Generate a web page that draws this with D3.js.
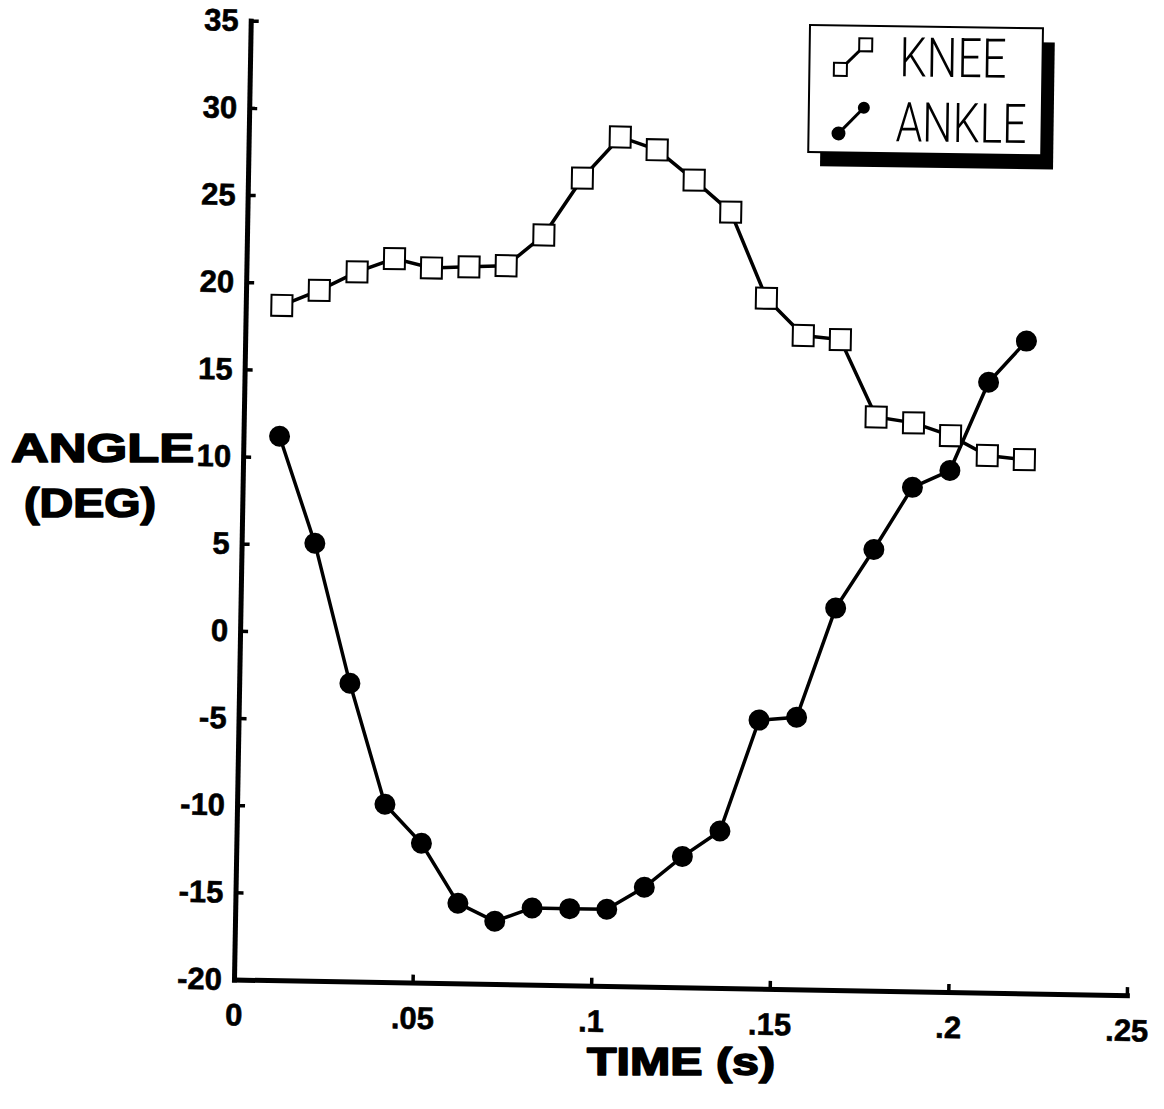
<!DOCTYPE html>
<html>
<head>
<meta charset="utf-8">
<script src="https://cdn.jsdelivr.net/npm/d3@7"></script>
<style>
  html, body { margin: 0; padding: 0; background: #fff; }
  svg { display: block; }
</style>
</head>
<body>
<svg id="chart" width="1164" height="1109"></svg>
<script>
// ---- data ----
const times = [0.0101, 0.0205, 0.0310, 0.0414, 0.0518, 0.0623, 0.0727, 0.0831, 0.0936, 0.1040,
               0.1144, 0.1249, 0.1353, 0.1457, 0.1562, 0.1666, 0.1770, 0.1875, 0.1979, 0.2083, 0.2187];
const kneeAngles = [18.7, 19.6, 20.7, 21.5, 21.0, 21.1, 21.2, 23.0, 26.3, 28.7,
                    28.0, 26.3, 24.5, 19.6, 17.5, 17.3, 12.9, 12.6, 11.9, 10.8, 10.6];
const ankleAngles = [11.2, 5.1, -2.9, -9.8, -12.0, -15.4, -16.4, -15.6, -15.6, -15.6,
                     -14.3, -12.5, -11.0, -4.6, -4.4, 1.9, 5.3, 8.9, 9.9, 15.0, 17.4];
const xTicks = [0, 0.05, 0.1, 0.15, 0.2, 0.25];
const xTickLabels = ["0", ".05", ".1", ".15", ".2", ".25"];
const yTicks = [-20, -15, -10, -5, 0, 5, 10, 15, 20, 25, 30, 35];
const yTickLabels = ["-20", "-15", "-10", "-5", "0", "5", "10", "15", "20", "25", "30", "35"];
const seriesNames = ["KNEE", "ANKLE"];
const xTitle = "TIME (s)";
const yTitleLines = ["ANGLE", "(DEG)"];

// ---- layout ----
const svg = d3.select("#chart");
svg.append("rect").attr("width", 1164).attr("height", 1109).attr("fill", "#fff");

const originX = 234, originY = 979.5, tilt = 1;
const plotW = 893, plotH = 959;

const x = d3.scaleLinear().domain([0, 0.25]).range([0, plotW]);
const y = d3.scaleLinear().domain([-20, 35]).range([0, -plotH]);

const g = svg.append("g")
  .attr("transform", `translate(${originX},${originY}) rotate(${tilt})`);

const tickFont = "'Liberation Sans', Arial, Helvetica, sans-serif";

// x axis
const gx = g.append("g")
  .call(d3.axisBottom(x).tickValues(xTicks)
    .tickFormat((d, i) => xTickLabels[i])
    .tickSizeInner(-8).tickSizeOuter(0).tickPadding(24));
// y axis
const gy = g.append("g")
  .call(d3.axisLeft(y).tickValues(yTicks)
    .tickFormat((d, i) => yTickLabels[i])
    .tickSizeInner(-8).tickSizeOuter(0).tickPadding(12));

[gx, gy].forEach(a => {
  a.select(".domain").attr("stroke", "#000").attr("stroke-width", 5).attr("stroke-linecap", "square");
  a.selectAll(".tick line").attr("stroke", "#000").attr("stroke-width", 3.5);
  a.selectAll(".tick text")
    .attr("fill", "#000")
    .attr("stroke", "#000").attr("stroke-width", 0.6)
    .style("font-family", tickFont)
    .style("font-weight", "bold")
    .style("font-size", "31px");
});

// lines
const line = d3.line().x(d => x(d[0])).y(d => y(d[1]));
const kneeData = times.map((t, i) => [t, kneeAngles[i]]);
const ankleData = times.map((t, i) => [t, ankleAngles[i]]);

g.append("path").datum(kneeData).attr("d", line)
  .attr("fill", "none").attr("stroke", "#000").attr("stroke-width", 3.5);
g.append("path").datum(ankleData).attr("d", line)
  .attr("fill", "none").attr("stroke", "#000").attr("stroke-width", 3.5);

// markers
const sq = 21;
g.append("g").selectAll("rect").data(kneeData).join("rect")
  .attr("x", d => x(d[0]) - sq / 2)
  .attr("y", d => y(d[1]) - sq / 2)
  .attr("width", sq).attr("height", sq)
  .attr("fill", "#fff").attr("stroke", "#000").attr("stroke-width", 2);

g.append("g").selectAll("circle").data(ankleData).join("circle")
  .attr("cx", d => x(d[0])).attr("cy", d => y(d[1])).attr("r", 10.5)
  .attr("fill", "#000");

// axis titles
const titleFont = "'Liberation Sans', Arial, Helvetica, sans-serif";
function title(txt, tx, ty, len, size) {
  svg.append("text").text(txt)
    .attr("x", tx).attr("y", ty)
    .attr("textLength", len).attr("lengthAdjust", "spacingAndGlyphs")
    .style("font-family", titleFont).style("font-weight", "bold").style("font-size", size + "px")
    .attr("fill", "#000").attr("stroke", "#000").attr("stroke-width", 1.6)
    .attr("stroke-linejoin", "round");
}
title(xTitle, 587, 1075, 188, 38);
title(yTitleLines[0], 11, 462, 183, 40);
title(yTitleLines[1], 24, 517, 132, 40);

// legend
const lg = svg.append("g").attr("transform", "translate(810,25) rotate(0.8)");
lg.append("rect").attr("x", 12).attr("y", 14).attr("width", 233).attr("height", 127).attr("fill", "#000");
lg.append("rect").attr("x", 0).attr("y", 0).attr("width", 233).attr("height", 127)
  .attr("fill", "#fff").attr("stroke", "#000").attr("stroke-width", 2);

// knee symbol
lg.append("line").attr("x1", 31).attr("y1", 44).attr("x2", 56).attr("y2", 19)
  .attr("stroke", "#000").attr("stroke-width", 3);
[[31, 44], [56, 19]].forEach(p => {
  lg.append("rect").attr("x", p[0] - 6.5).attr("y", p[1] - 6.5).attr("width", 13).attr("height", 13)
    .attr("fill", "#fff").attr("stroke", "#000").attr("stroke-width", 2);
});
// ankle symbol
lg.append("line").attr("x1", 30).attr("y1", 108).attr("x2", 55).attr("y2", 82)
  .attr("stroke", "#000").attr("stroke-width", 3);
lg.append("circle").attr("cx", 30).attr("cy", 108).attr("r", 7).attr("fill", "#000");
lg.append("circle").attr("cx", 55).attr("cy", 82).attr("r", 6).attr("fill", "#000");

const legFont = "Roboto, 'Liberation Sans Narrow', 'DejaVu Sans', sans-serif";
lg.append("text").text(seriesNames[0])
  .attr("x", 90).attr("y", 50)
  .attr("textLength", 107).attr("lengthAdjust", "spacingAndGlyphs")
  .style("font-family", legFont).style("font-weight", 300).style("font-size", "55px")
  .attr("fill", "#000");
lg.append("text").text(seriesNames[1])
  .attr("x", 87).attr("y", 115)
  .attr("textLength", 131).attr("lengthAdjust", "spacingAndGlyphs")
  .style("font-family", legFont).style("font-weight", 300).style("font-size", "55px")
  .attr("fill", "#000");
</script>
</body>
</html>
